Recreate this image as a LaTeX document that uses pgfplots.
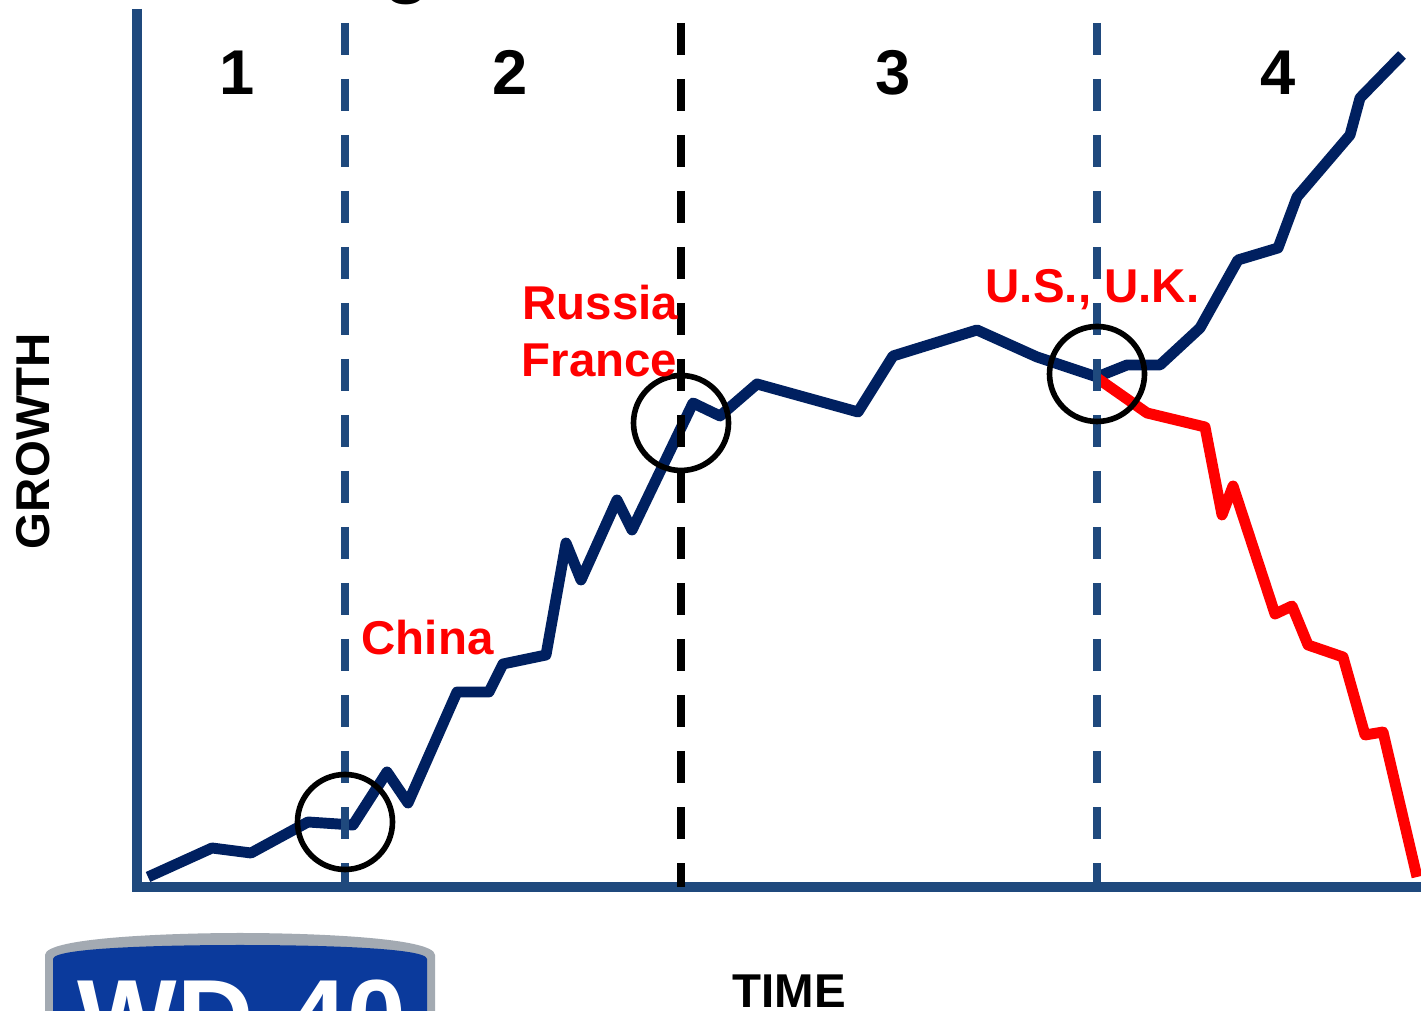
\documentclass[border=0pt]{standalone}
\usepackage{pgfplots}
\pgfplotsset{compat=1.18}
\usepackage{fontspec}
\setmainfont{Liberation Sans}
\definecolor{navy}{HTML}{002060}
\definecolor{axblue}{HTML}{1F497D}
\definecolor{logoblue}{HTML}{0B3A9C}
\definecolor{logogray}{HTML}{A3AAB2}
\begin{document}
\begin{tikzpicture}
\useasboundingbox (0,0) rectangle (14.21cm,10.11cm);
\clip (0,0) rectangle (14.21cm,10.11cm);
\begin{axis}[scale only axis, width=14.21cm, height=10.11cm,
  xmin=-137, xmax=1284, ymin=-124, ymax=887,
  hide axis, clip=false, anchor=south west, at={(0,0)}]
% logo (partly cut off)
\fill[logogray] (axis cs:-92,-140) -- (axis cs:-92,-68) .. controls (axis cs:-92,-50) and (axis cs:40,-46) .. (axis cs:103,-46) .. controls (axis cs:166,-46) and (axis cs:298,-50) .. (axis cs:298,-68) -- (axis cs:298,-140) -- cycle;
\fill[logoblue] (axis cs:-84,-140) -- (axis cs:-84,-72) .. controls (axis cs:-84,-60) and (axis cs:40,-58) .. (axis cs:103,-58) .. controls (axis cs:166,-58) and (axis cs:290,-60) .. (axis cs:290,-72) -- (axis cs:290,-140) -- cycle;
\node[anchor=base west, text=white, font=\bfseries\fontsize{30}{34}\selectfont, inner sep=0pt] at (axis cs:-60,-166) {WD-40};
% partial title letter at the top
\node[anchor=base, font=\bfseries\fontsize{22}{26}\selectfont, inner sep=0pt] at (axis cs:270,898) {g};
% growth line
\addplot[navy, line width=3.1pt, line join=round, forget plot] coordinates {
(11,10) (75,39) (114,34) (171,65) (216,62) (250,115) (271,84) (320,195)
(352,195) (366,223) (409,232) (429,344) (444,307) (480,387) (495,357)
(556,484) (583,471) (620,503) (721,475) (756,531) (840,557) (900,530)
(960,510) (990,522) (1023,522) (1063,559) (1101,627) (1141,639)
(1160,690) (1213,752) (1223,789) (1265,832)};
% decline line
\addplot[red, line width=3.1pt, line join=round, forget plot] coordinates {
(960,509) (1010,474) (1068,460) (1085,372) (1096,401) (1138,273)
(1155,281) (1171,242) (1206,230) (1228,152) (1246,155) (1280,10)};
% axes
\addplot[axblue, line width=3.1pt, line join=miter, forget plot] coordinates {(0,878) (0,0) (1284,0)};
% stage separators
\addplot[axblue, line width=2.3pt, dash pattern=on 0.32cm off 0.24cm, forget plot] coordinates {(208,864) (208,0)};
\addplot[black, line width=2.3pt, dash pattern=on 0.32cm off 0.24cm, forget plot] coordinates {(544,864) (544,0)};
\addplot[axblue, line width=2.3pt, dash pattern=on 0.32cm off 0.24cm, forget plot] coordinates {(960,864) (960,0)};
% circles
\draw[black, line width=1.6pt] (axis cs:208,65) circle[radius=0.475cm];
\draw[black, line width=1.6pt] (axis cs:544,464) circle[radius=0.475cm];
\draw[black, line width=1.6pt] (axis cs:960,513) circle[radius=0.475cm];
% stage numbers
\node[anchor=base, font=\bfseries\fontsize{18}{22}\selectfont] at (axis cs:100,792) {1};
\node[anchor=base, font=\bfseries\fontsize{18}{22}\selectfont] at (axis cs:373,792) {2};
\node[anchor=base, font=\bfseries\fontsize{18}{22}\selectfont] at (axis cs:756,792) {3};
\node[anchor=base, font=\bfseries\fontsize{18}{22}\selectfont] at (axis cs:1141,792) {4};
% labels
\node[anchor=base west, inner sep=0pt, text=red, font=\bfseries\fontsize{13.5}{16}\selectfont] at (axis cs:224,232) {China};
\node[anchor=base west, inner sep=0pt, text=red, font=\bfseries\fontsize{13.5}{16}\selectfont] at (axis cs:385,567) {Russia};
\node[anchor=base west, inner sep=0pt, text=red, font=\bfseries\fontsize{13.5}{16}\selectfont] at (axis cs:384,510) {France};
\node[anchor=base west, inner sep=0pt, text=red, font=\bfseries\fontsize{13.5}{16}\selectfont] at (axis cs:848,584) {U.S., U.K.};
% axis titles
\node[rotate=90, anchor=base, inner sep=0pt, font=\bfseries\fontsize{13.5}{16}\selectfont] at (axis cs:-87,446) {GROWTH};
\node[anchor=base, inner sep=0pt, font=\bfseries\fontsize{13.5}{16}\selectfont] at (axis cs:652,-121) {TIME};
\end{axis}
\end{tikzpicture}
\end{document}
